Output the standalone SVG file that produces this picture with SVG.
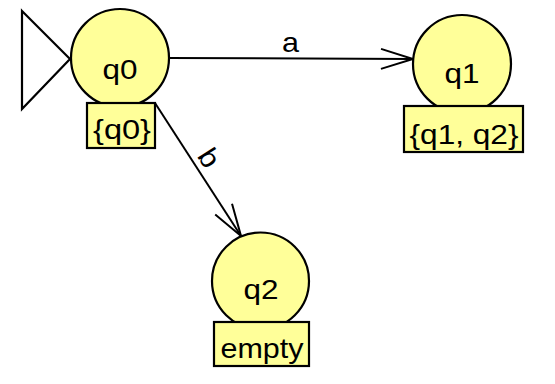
<svg xmlns="http://www.w3.org/2000/svg" width="555" height="384" viewBox="0 0 555 384">
<style>
.st{fill:#ffff99;stroke:#000;stroke-width:2.2}
.lbl{fill:#ffff99;stroke:#000;stroke-width:2.2}
.t{font-family:"Liberation Sans",Arial,sans-serif;font-size:28px;fill:#000;text-anchor:middle}
.e{fill:none;stroke:#000;stroke-width:2}
</style>
<defs>
<marker id="arr" markerUnits="userSpaceOnUse" markerWidth="40" markerHeight="30" viewBox="-32 -15 40 30" refX="0" refY="0" orient="auto" overflow="visible">
<path d="M-32,-10 L0,0 L-32,10" fill="none" stroke="#000" stroke-width="2"/>
</marker>
</defs>
<rect width="555" height="384" fill="#fff"/>
<g id="connectors">
<line class="e" x1="168" y1="58" x2="413" y2="59" marker-end="url(#arr)"/>
<text class="t" x="290.5" y="52" textLength="17" lengthAdjust="spacingAndGlyphs">a</text>
<line class="e" x1="155" y1="103" x2="241" y2="236" marker-end="url(#arr)"/>
<text class="t" x="209" y="158" dominant-baseline="central" textLength="17" lengthAdjust="spacingAndGlyphs" transform="rotate(57 209 158)">b</text>
</g>
<g id="start">
<path d="M22,11 L70,59 L22,109 Z" fill="#fff" stroke="#000" stroke-width="2.2"/>
</g>
<g id="q0">
<circle class="st" cx="120" cy="58" r="49"/>
<rect class="lbl" x="87" y="103" width="68" height="45"/>
<text class="t" x="120" y="79" textLength="35" lengthAdjust="spacingAndGlyphs">q0</text>
<text class="t" x="122" y="139" textLength="58" lengthAdjust="spacingAndGlyphs">{q0}</text>
</g>
<g id="q1">
<circle class="st" cx="462" cy="64" r="49"/>
<rect class="lbl" x="404" y="106" width="119" height="46"/>
<text class="t" x="462" y="83" textLength="35" lengthAdjust="spacingAndGlyphs">q1</text>
<text class="t" x="464" y="144" textLength="109" lengthAdjust="spacingAndGlyphs">{q1, q2}</text>
</g>
<g id="q2">
<circle class="st" cx="260.5" cy="281" r="48.5"/>
<rect class="lbl" x="214" y="322" width="95" height="44"/>
<text class="t" x="261" y="299" textLength="35" lengthAdjust="spacingAndGlyphs">q2</text>
<text class="t" x="262" y="358" textLength="83" lengthAdjust="spacingAndGlyphs">empty</text>
</g>
</svg>
